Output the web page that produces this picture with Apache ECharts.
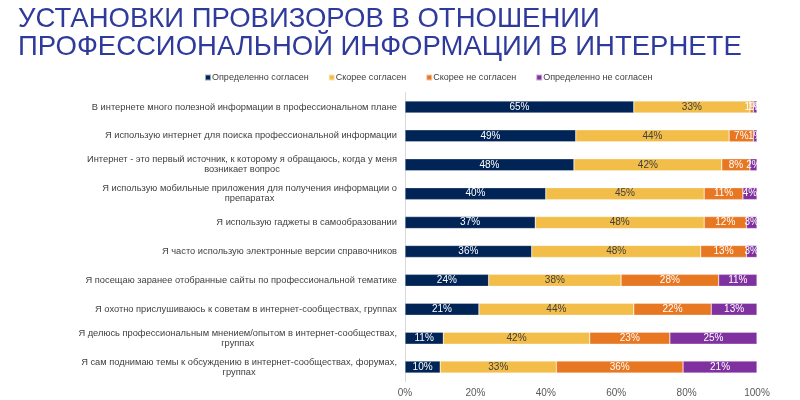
<!DOCTYPE html>
<html><head><meta charset="utf-8">
<script src="https://cdn.jsdelivr.net/npm/echarts@6/dist/echarts.min.js"></script>
<style>html,body{margin:0;padding:0;background:#fff}#c{width:800px;height:400px}</style>
</head><body><div id="c"></div>
<script>
const titleText = 'УСТАНОВКИ ПРОВИЗОРОВ В ОТНОШЕНИИ\nПРОФЕССИОНАЛЬНОЙ ИНФОРМАЦИИ В ИНТЕРНЕТЕ';
const categories = [
  'В интернете много полезной информации в профессиональном плане',
  'Я использую интернет для поиска профессиональной информации',
  'Интернет - это первый источник, к которому я обращаюсь, когда у меня\nвозникает вопрос',
  'Я использую мобильные приложения для получения информации о\nпрепаратах',
  'Я использую гаджеты в самообразовании',
  'Я часто использую электронные версии справочников',
  'Я посещаю заранее отобранные сайты по профессиональной тематике',
  'Я охотно прислушиваюсь к советам в интернет-сообществах, группах',
  'Я делюсь профессиональным мнением/опытом в интернет-сообществах,\nгруппах',
  'Я сам поднимаю темы к обсуждению в интернет-сообществах, форумах,\nгруппах'
];
const seriesNames = ['Определенно согласен', 'Скорее согласен', 'Скорее не согласен', 'Определенно не согласен'];
const definitelyAgree = [65, 49, 48, 40, 37, 36, 24, 21, 11, 10];
const ratherAgree = [33, 44, 42, 45, 48, 48, 38, 44, 42, 33];
const ratherDisagree = [1, 7, 8, 11, 12, 13, 28, 22, 23, 36];
const definitelyDisagree = [1, 1, 2, 4, 3, 3, 11, 13, 25, 21];
const xTicks = [0, 20, 40, 60, 80, 100];

const colors = ['#002456', '#F2BD48', '#E87722', '#8031A0'];
const labelColors = ['#ffffff', '#404040', '#ffffff', '#ffffff'];
const values = [definitelyAgree, ratherAgree, ratherDisagree, definitelyDisagree];
// 100% stacked: each row is scaled to its own total (rounded shares may sum to 101)
const totals = categories.map((_, r) => values.reduce((s, arr) => s + arr[r], 0));

const chart = echarts.init(document.getElementById('c'));
chart.setOption({
  animation: false,
  title: {
    text: titleText, left: 13, top: 0,
    textStyle: { color: '#2f3b9c', fontSize: 27.5, fontWeight: 'normal', fontFamily: 'Liberation Sans', lineHeight: 28 }
  },
  legend: {
    top: 68, left: 199, itemWidth: 6, itemHeight: 6, itemGap: 19,
    icon: 'rect',
    textStyle: { fontSize: 9, color: '#404040', fontFamily: 'Liberation Sans', padding: [0, 0, 0, -4] },
    data: seriesNames
  },
  grid: { left: 405, right: 43, top: 92.5, bottom: 18.5, containLabel: false },
  xAxis: {
    type: 'value', min: 0, max: 100, interval: 20,
    axisLine: { show: false }, axisTick: { show: false }, splitLine: { show: false },
    axisLabel: { formatter: v => xTicks.includes(v) ? v + '%' : '', fontSize: 10, color: '#595959', fontFamily: 'Liberation Sans', margin: 7 }
  },
  yAxis: {
    type: 'category', inverse: true, data: categories,
    axisLine: { show: true, lineStyle: { color: '#d9d9d9' } },
    axisTick: { show: false },
    axisLabel: {
      margin: 8, color: '#404040', fontSize: 9.3, fontFamily: 'Liberation Sans', align: 'right',
      formatter: v => v.split('\n').map(l => '{c|' + l + '}').join('\n'),
      rich: { c: { align: 'center', fontSize: 9.3, color: '#404040', fontFamily: 'Liberation Sans', lineHeight: 10 } }
    }
  },
  series: seriesNames.map((name, i) => ({
    name, type: 'bar', stack: 'total', barWidth: 12,
    itemStyle: { color: colors[i], borderColor: 'rgba(255,255,255,0.6)', borderWidth: 0.5 },
    label: {
      show: true, position: 'inside', color: labelColors[i], fontSize: 10, fontFamily: 'Liberation Sans',
      formatter: p => values[i][p.dataIndex] + '%'
    },
    data: values[i].map((v, r) => v * 100 / totals[r])
  }))
});
</script></body></html>
